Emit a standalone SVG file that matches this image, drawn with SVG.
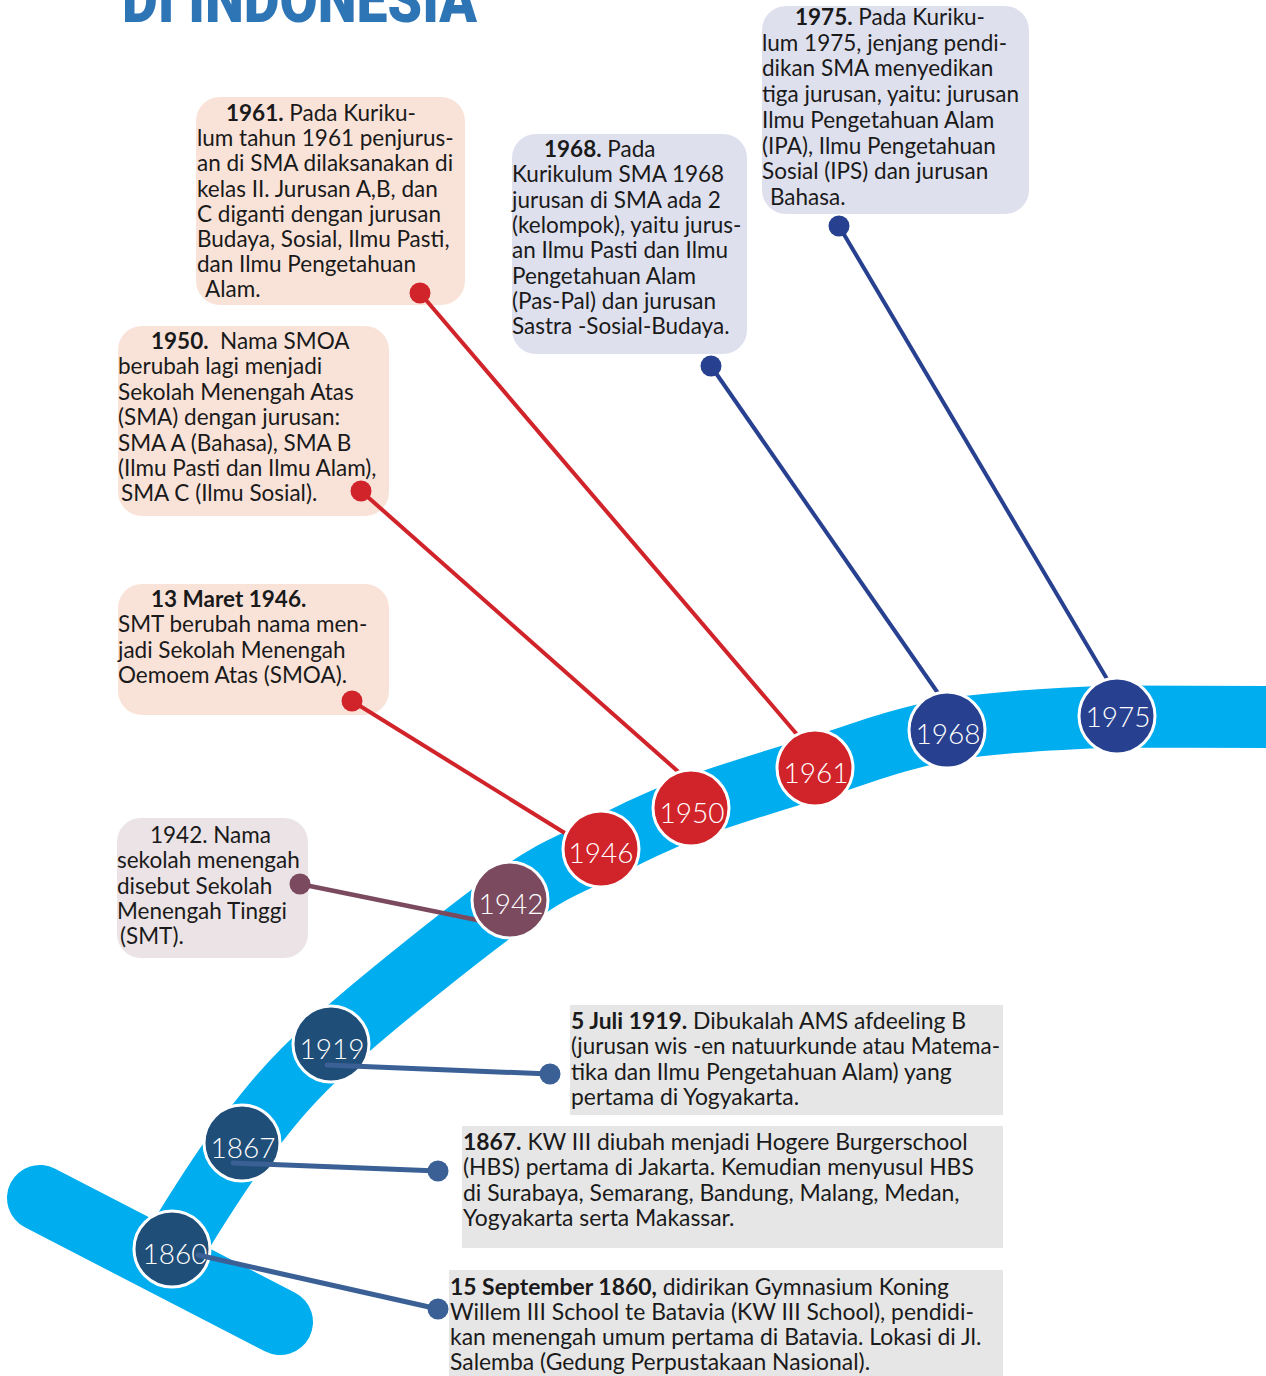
<svg xmlns="http://www.w3.org/2000/svg" width="1266" height="1376" viewBox="0 0 1266 1376">
<style>
.t{font-family:Lato,"Noto Sans","Liberation Sans",sans-serif;font-size:22.5px;fill:#1a1a1a}
.w{font-size:22.9px}
.b{font-weight:bold}
.yr{font-family:Lato,"Noto Sans","Liberation Sans",sans-serif;font-size:28px;font-weight:300;fill:#ffffff;text-anchor:middle}
.peach{fill:#f9e3d9}
.lav{fill:#dfe0ee}
.pink{fill:#ebe3e6}
.grey{fill:#e6e6e6}
.band{fill:none;stroke:#00aeef}
.cr{fill:#d1232a;stroke:#fff;stroke-width:3}
.cn{fill:#27408f;stroke:#fff;stroke-width:3}
.cb{fill:#1f4e79;stroke:#fff;stroke-width:3}
.cm{fill:#7b4a5e;stroke:#fff;stroke-width:3}
.lr{stroke:#d1232a;stroke-width:4;fill:none}
.ln{stroke:#27408f;stroke-width:4;fill:none}
.lm{stroke:#7b4a5e;stroke-width:4.5;fill:none}
.lb{stroke:#3a6096;stroke-width:5;fill:none;stroke-linecap:round}
</style>

<text x="122" y="21.5" font-family="Roboto,'Liberation Sans',sans-serif" font-weight="900" font-size="64" fill="#2e75b6" textLength="355" lengthAdjust="spacingAndGlyphs">DI INDONESIA</text>

<g id="timeline-band">
<line class="band" x1="40" y1="1198" x2="280" y2="1322" stroke-width="66" stroke-linecap="round"/>
<path class="band" stroke-width="62" d="M172,1249 C183.7,1231.3 215.5,1177.2 242,1143 C268.5,1108.8 286.3,1084.5 331,1044 C375.7,1003.5 465,932.5 510,900 C555,867.5 570.8,864.3 601,849 C631.2,833.7 655.3,821.5 691,808 C726.7,794.5 772.3,781 815,768 C857.7,755 896.7,738.7 947,730 C997.3,721.3 1063.8,718.3 1117,716.5 L1290,717"/>
</g>

<g id="box-1975">
<rect class="lav" x="762" y="6" width="267" height="208" rx="24"/>
<text class="t" x="795" y="25"><tspan class="b">1975.</tspan> Pada Kuriku-</text>
<text class="t" x="762" y="50.7">lum 1975, jenjang pendi-</text>
<text class="t" x="762" y="76.4">dikan SMA menyedikan</text>
<text class="t" x="762" y="102.1">tiga jurusan, yaitu: jurusan</text>
<text class="t" x="762" y="127.8">Ilmu Pengetahuan Alam</text>
<text class="t" x="762" y="153.5">(IPA), Ilmu Pengetahuan</text>
<text class="t" x="762" y="179.2">Sosial (IPS) dan jurusan</text>
<text class="t" x="770" y="205">Bahasa.</text>
</g>

<g id="box-1968">
<rect class="lav" x="512" y="134" width="235" height="220" rx="24"/>
<text class="t" x="544" y="157"><tspan class="b">1968.</tspan> Pada</text>
<text class="t" x="512" y="182.3">Kurikulum SMA 1968</text>
<text class="t" x="512" y="207.6">jurusan di SMA ada 2</text>
<text class="t" x="512" y="232.9">(kelompok), yaitu jurus-</text>
<text class="t" x="512" y="258.2">an Ilmu Pasti dan Ilmu</text>
<text class="t" x="512" y="283.5">Pengetahuan Alam</text>
<text class="t" x="512" y="308.8">(Pas-Pal) dan jurusan</text>
<text class="t" x="512" y="334.1">Sastra -Sosial-Budaya.</text>
</g>

<g id="box-1961">
<rect class="peach" x="196" y="97" width="269" height="208" rx="24"/>
<text class="t" x="226" y="121"><tspan class="b">1961.</tspan> Pada Kuriku-</text>
<text class="t" x="197" y="146.2">lum tahun 1961 penjurus-</text>
<text class="t" x="197" y="171.4">an di SMA dilaksanakan di</text>
<text class="t" x="197" y="196.6">kelas II. Jurusan A,B, dan</text>
<text class="t" x="197" y="221.8">C diganti dengan jurusan</text>
<text class="t" x="197" y="247">Budaya, Sosial, Ilmu Pasti,</text>
<text class="t" x="197" y="272.2">dan Ilmu Pengetahuan</text>
<text class="t" x="205" y="297.4">Alam.</text>
</g>

<g id="box-1950">
<rect class="peach" x="118" y="326" width="271" height="190" rx="24"/>
<text class="t" x="151" y="349" xml:space="preserve"><tspan class="b">1950.</tspan>  Nama SMOA</text>
<text class="t" x="118" y="374.4">berubah lagi menjadi</text>
<text class="t" x="118" y="399.8">Sekolah Menengah Atas</text>
<text class="t" x="118" y="425.2">(SMA) dengan jurusan:</text>
<text class="t" x="118" y="450.6">SMA A (Bahasa), SMA B</text>
<text class="t" x="118" y="476">(Ilmu Pasti dan Ilmu Alam),</text>
<text class="t" x="121" y="501.4">SMA C (Ilmu Sosial).</text>
</g>

<g id="box-1946">
<rect class="peach" x="118" y="584" width="271" height="131" rx="24"/>
<text class="t b" x="151" y="607">13 Maret 1946.</text>
<text class="t" x="118" y="632.4">SMT berubah nama men-</text>
<text class="t" x="118" y="657.8">jadi Sekolah Menengah</text>
<text class="t" x="118" y="683.2">Oemoem Atas (SMOA).</text>
</g>

<g id="box-1942">
<rect class="pink" x="117" y="818" width="191" height="140" rx="24"/>
<text class="t" x="150" y="843">1942. Nama</text>
<text class="t" x="117" y="868.3">sekolah menengah</text>
<text class="t" x="117" y="893.6">disebut Sekolah</text>
<text class="t" x="117" y="918.9">Menengah Tinggi</text>
<text class="t" x="120" y="944.2">(SMT).</text>
</g>

<g id="box-1919">
<rect class="grey" x="570" y="1005" width="433" height="110"/>
<text class="t w" x="571" y="1029"><tspan class="b">5 Juli 1919.</tspan> Dibukalah AMS afdeeling B</text>
<text class="t w" x="571" y="1054.3" textLength="429" lengthAdjust="spacingAndGlyphs">(jurusan wis -en natuurkunde atau Matema-</text>
<text class="t w" x="571" y="1079.6">tika dan Ilmu Pengetahuan Alam) yang</text>
<text class="t w" x="571" y="1104.9">pertama di Yogyakarta.</text>
</g>

<g id="box-1867">
<rect class="grey" x="462" y="1126" width="541" height="122"/>
<text class="t w" x="463" y="1150"><tspan class="b">1867.</tspan> KW III diubah menjadi Hogere Burgerschool</text>
<text class="t w" x="463" y="1175.3">(HBS) pertama di Jakarta. Kemudian menyusul HBS</text>
<text class="t w" x="463" y="1200.6">di Surabaya, Semarang, Bandung, Malang, Medan,</text>
<text class="t w" x="463" y="1225.9">Yogyakarta serta Makassar.</text>
</g>

<g id="box-1860">
<rect class="grey" x="449" y="1270" width="554" height="106"/>
<text class="t w" x="450" y="1295"><tspan class="b">15 September 1860,</tspan> didirikan Gymnasium Koning</text>
<text class="t w" x="450" y="1320.2">Willem III School te Batavia (KW III School), pendidi-</text>
<text class="t w" x="450" y="1345.2">kan menengah umum pertama di Batavia. Lokasi di Jl.</text>
<text class="t w" x="450" y="1370.4">Salemba (Gedung Perpustakaan Nasional).</text>
</g>

<g id="connectors">
<line class="ln" x1="839" y1="226" x2="1110" y2="684"/>
<circle cx="839" cy="226" r="10.5" fill="#27408f"/>
<line class="ln" x1="711" y1="366" x2="940" y2="696"/>
<circle cx="711" cy="366" r="10.5" fill="#27408f"/>
<line class="lr" x1="420" y1="293" x2="800" y2="738"/>
<circle cx="420" cy="293" r="10.5" fill="#d1232a"/>
<line class="lr" x1="361" y1="491" x2="682" y2="775"/>
<circle cx="361" cy="491" r="10.5" fill="#d1232a"/>
<line class="lr" x1="352" y1="701" x2="568" y2="835"/>
<circle cx="352" cy="701" r="10.5" fill="#d1232a"/>
<line class="lm" x1="300" y1="884" x2="482" y2="921"/>
<circle cx="300" cy="884" r="10.5" fill="#7b4a5e"/>
</g>

<g id="node-1975"><circle class="cn" cx="1117" cy="716" r="38"/><text class="yr" x="1118" y="727">1975</text></g>
<g id="node-1968"><circle class="cn" cx="947" cy="730" r="38"/><text class="yr" x="948" y="744">1968</text></g>
<g id="node-1961"><circle class="cr" cx="815" cy="768" r="38"/><text class="yr" x="816" y="783">1961</text></g>
<g id="node-1950"><circle class="cr" cx="691" cy="808" r="38"/><text class="yr" x="692" y="823">1950</text></g>
<g id="node-1946"><circle class="cr" cx="601" cy="849" r="38"/><text class="yr" x="601" y="863">1946</text></g>
<g id="node-1942"><circle class="cm" cx="510" cy="900" r="38"/><text class="yr" x="511" y="914">1942</text></g>
<g id="node-1919"><circle class="cb" cx="331" cy="1044" r="38"/><text class="yr" x="332" y="1059">1919</text></g>
<g id="node-1867"><circle class="cb" cx="242" cy="1143" r="38"/><text class="yr" x="243" y="1158">1867</text></g>
<g id="node-1860"><circle class="cb" cx="172" cy="1249" r="38"/><text class="yr" x="175" y="1264">1860</text></g>

<g id="connectors-front">
<line class="lb" x1="327" y1="1065" x2="550" y2="1074"/>
<circle cx="550" cy="1074" r="10.5" fill="#3a6096"/>
<line class="lb" x1="233" y1="1163" x2="438" y2="1171"/>
<circle cx="438" cy="1171" r="10.5" fill="#3a6096"/>
<line class="lb" x1="198" y1="1255" x2="438" y2="1309"/>
<circle cx="438" cy="1309" r="10.5" fill="#3a6096"/>
</g>
</svg>
